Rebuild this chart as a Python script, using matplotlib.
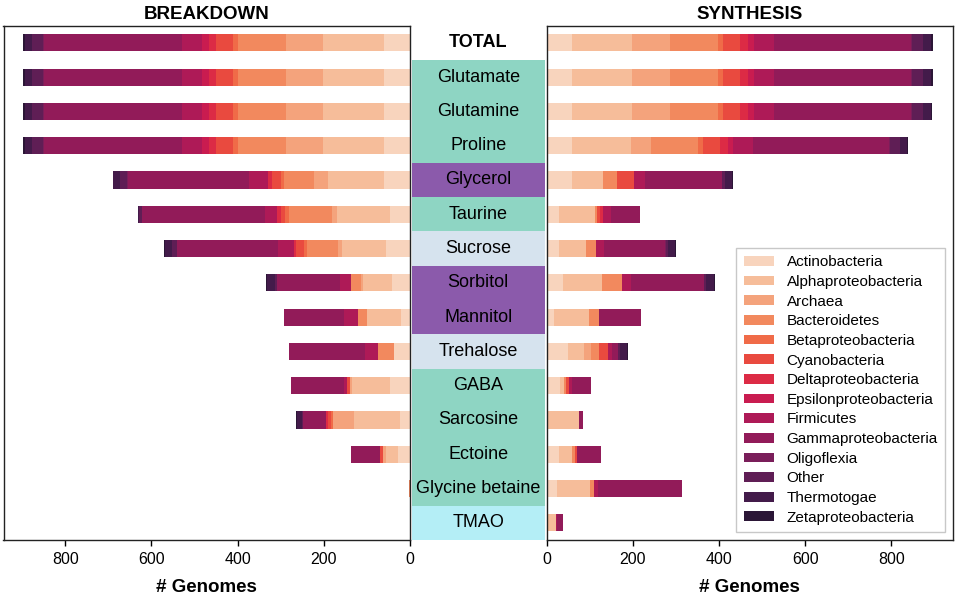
import matplotlib
matplotlib.use("Agg")
import matplotlib.pyplot as plt
import numpy as np

plt.rcParams['font.family'] = ['Liberation Sans', 'DejaVu Sans']

phyla = ["Actinobacteria", "Alphaproteobacteria", "Archaea", "Bacteroidetes",
         "Betaproteobacteria", "Cyanobacteria", "Deltaproteobacteria",
         "Epsilonproteobacteria", "Firmicutes", "Gammaproteobacteria",
         "Oligoflexia", "Other", "Thermotogae", "Zetaproteobacteria"]

phylum_colors = ["#f8d4bd", "#f6bd9a", "#f4a37c", "#f2895e", "#f06b48",
                 "#e94a3f", "#dc2b45", "#c91c50", "#ae1a57", "#921b59",
                 "#7a1e5a", "#5f1e55", "#431b4a", "#2b1636"]

compounds = ["TOTAL", "Glutamate", "Glutamine", "Proline", "Glycerol", "Taurine",
             "Sucrose", "Sorbitol", "Mannitol", "Trehalose", "GABA", "Sarcosine",
             "Ectoine", "Glycine betaine", "TMAO"]

band_colors = ["#ffffff", "#8ed5c3", "#8ed5c3", "#8ed5c3", "#8b5aab", "#8ed5c3",
               "#d6e3ee", "#8b5aab", "#8b5aab", "#d6e3ee", "#8ed5c3", "#8ed5c3",
               "#8ed5c3", "#8ed5c3", "#b4eef6"]

# rows: compounds, columns: phyla (same order as `phyla`)
breakdown = [
    [61, 141, 86, 112, 10, 39, 18, 15, 46, 320, 3, 25, 18, 3],
    [61, 141, 86, 112, 10, 39, 18, 15, 46, 320, 3, 25, 18, 3],
    [61, 141, 86, 112, 10, 39, 18, 15, 46, 320, 3, 25, 18, 3],
    [61, 141, 86, 112, 10, 39, 18, 15, 46, 320, 3, 25, 18, 3],
    [61, 130, 32, 69, 8, 19, 10, 0, 44, 281, 2, 17, 15, 2],
    [46, 123, 12, 100, 8, 11, 8, 0, 29, 284, 1, 6, 3, 0],
    [55, 102, 10, 73, 6, 18, 4, 0, 38, 234, 1, 10, 18, 2],
    [41, 68, 5, 22, 1, 1, 0, 0, 25, 145, 1, 5, 17, 2],
    [20, 79, 0, 22, 0, 0, 0, 0, 32, 140, 0, 0, 0, 0],
    [36, 0, 0, 38, 0, 0, 0, 0, 31, 176, 0, 0, 0, 0],
    [46, 88, 6, 0, 0, 5, 0, 0, 8, 124, 0, 0, 0, 0],
    [24, 107, 48, 0, 5, 6, 4, 0, 0, 54, 0, 3, 10, 3],
    [28, 27, 8, 0, 0, 6, 0, 0, 0, 67, 0, 0, 0, 0],
    [0, 0, 0, 2, 0, 0, 0, 0, 0, 0, 0, 0, 0, 0],
    [0, 0, 0, 0, 0, 0, 0, 0, 0, 0, 0, 0, 0, 0],
]

synthesis = [
    [60, 139, 87, 112, 12, 38, 19, 14, 47, 318, 3, 25, 19, 3],
    [60, 139, 87, 112, 12, 38, 19, 14, 47, 318, 3, 25, 19, 3],
    [60, 139, 87, 112, 12, 38, 19, 14, 47, 318, 3, 25, 19, 2],
    [60, 135, 47, 110, 11, 39, 18, 13, 46, 316, 2, 23, 16, 2],
    [60, 71, 0, 33, 0, 38, 0, 0, 26, 178, 2, 5, 18, 2],
    [29, 83, 0, 5, 0, 7, 7, 0, 18, 67, 0, 0, 0, 0],
    [29, 62, 0, 23, 0, 0, 0, 0, 20, 142, 1, 5, 17, 2],
    [39, 90, 0, 45, 0, 0, 0, 0, 23, 168, 1, 5, 17, 2],
    [17, 81, 0, 24, 0, 0, 0, 0, 0, 98, 0, 0, 0, 0],
    [50, 37, 17, 17, 0, 22, 0, 0, 10, 12, 0, 5, 17, 2],
    [31, 9, 0, 6, 0, 6, 0, 0, 6, 46, 0, 0, 0, 0],
    [0, 76, 0, 0, 0, 0, 0, 0, 0, 9, 0, 0, 0, 0],
    [29, 31, 0, 6, 0, 5, 0, 0, 0, 56, 0, 0, 0, 0],
    [25, 76, 0, 9, 0, 0, 0, 0, 10, 195, 0, 0, 0, 0],
    [0, 22, 0, 0, 0, 0, 0, 0, 3, 14, 0, 0, 0, 0],
]

xticks = [0, 200, 400, 600, 800]

W, H = 957, 597
fig = plt.figure(figsize=(W / 100, H / 100), dpi=100)
bottom = 57 / H
height = 514.3 / H
axL = fig.add_axes([3.5 / W, bottom, 406.5 / W, height])
axC = fig.add_axes([410 / W, bottom, 136.5 / W, height])
axR = fig.add_axes([546.5 / W, bottom, 406.5 / W, height])

y = np.arange(len(compounds))
XMAX = 943


def stacked(ax, table):
    data = np.array(table, dtype=float)
    left = np.zeros(len(compounds))
    for j, name in enumerate(phyla):
        ax.barh(y, data[:, j], left=left, height=0.5, color=phylum_colors[j],
                edgecolor='none', linewidth=0, label=name)
        left += data[:, j]
    ax.set_ylim(len(compounds) - 0.5, -0.5)
    ax.set_yticks([])
    ax.set_xticks(xticks)
    ax.set_xticklabels([str(t) for t in xticks], fontsize=11.5)
    ax.tick_params(axis='x', direction='out', length=4, width=1, pad=5)
    for s in ax.spines.values():
        s.set_color('#222222')
        s.set_linewidth(1.0)
    ax.set_xlabel('# Genomes', fontsize=13.5, fontweight='bold', labelpad=8)


stacked(axL, breakdown)
axL.set_xlim(XMAX, 0)
axL.set_title('BREAKDOWN', fontsize=13.5, fontweight='bold', pad=5)

stacked(axR, synthesis)
axR.set_xlim(0, XMAX)
axR.set_title('SYNTHESIS', fontsize=13.5, fontweight='bold', pad=5)
leg = axR.legend(loc='lower right', fontsize=11, frameon=True, fancybox=False,
                 edgecolor='#bbbbbb', labelspacing=0.37, handlelength=2.0,
                 handleheight=0.6, borderpad=0.5, borderaxespad=0.5)
leg.get_frame().set_linewidth(1.0)

axC.barh(y, [1] * len(compounds), left=0, height=1.0, color=band_colors,
         edgecolor='none')
axC.set_xlim(-0.012, 1.012)
axC.set_ylim(len(compounds) - 0.5, -0.5)
axC.axis('off')
for i, name in enumerate(compounds):
    axC.text(0.5, i, name, ha='center', va='center', fontsize=13,
             fontweight='bold' if name == 'TOTAL' else 'normal', color='black')

fig.savefig('out.png', dpi=100)
